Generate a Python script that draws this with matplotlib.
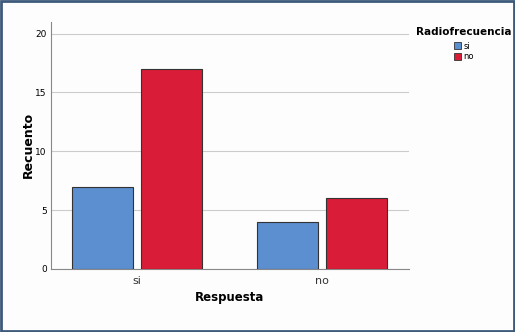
import matplotlib.pyplot as plt
import numpy as np
from matplotlib.patches import Rectangle, Patch

# Recuento por respuesta y radiofrecuencia
respuestas = ['si', 'no']
radiofrecuencia = ['si', 'no']
recuento_si = [7, 4]
recuento_no = [17, 6]
colores = ['#5b8fcf', '#d91c37']

fig = plt.figure(figsize=(5.15, 3.32), dpi=100)
fig.patch.set_facecolor('#fdfdfd')
ax = fig.add_axes([0.099, 0.190, 0.695, 0.744])
ax.set_facecolor('#fdfdfd')

x = np.arange(len(respuestas))
w = 0.33
off = 0.185
ax.bar(x - off, recuento_si, w, color=colores[0], edgecolor='#333333', linewidth=0.8, zorder=3)
ax.bar(x + off, recuento_no, w, color=colores[1], edgecolor='#333333', linewidth=0.8, zorder=3)

ax.set_xlim(-0.465, 1.47)
ax.set_ylim(0, 21)
ax.set_yticks([0, 5, 10, 15, 20])
ax.set_xticks(x)
ax.set_xticklabels(respuestas, fontsize=8, color='#333333')
ax.tick_params(axis='y', labelsize=6.5, length=0, pad=3)
ax.tick_params(axis='x', length=0, pad=5)
ax.grid(axis='y', color='#cccccc', linewidth=0.8, zorder=0)

for s in ['top', 'right']:
    ax.spines[s].set_visible(False)
for s in ['left', 'bottom']:
    ax.spines[s].set_color('#888888')
    ax.spines[s].set_linewidth(0.8)

ax.set_ylabel('Recuento', fontsize=9, fontweight='bold', labelpad=0)
ax.set_xlabel('Respuesta', fontsize=8.5, fontweight='bold', labelpad=4)

handles = [Patch(facecolor=colores[i], edgecolor='#333333', linewidth=0.6, label=radiofrecuencia[i])
           for i in range(2)]
leg = fig.legend(handles=handles, title='Radiofrecuencia', loc='upper left',
                 bbox_to_anchor=(0.797, 0.935), frameon=False, fontsize=6,
                 title_fontsize=7.5, handlelength=0.8, handleheight=0.8,
                 handletextpad=0.3, labelspacing=0.2, borderpad=0.2)
leg.get_title().set_fontweight('bold')
leg._legend_box.align = 'center'
leg._legend_box.sep = 3

fig.patches.append(Rectangle((0.002, 0.003), 0.996, 0.994, transform=fig.transFigure,
                             fill=False, edgecolor='#3d5a7a', linewidth=2))

plt.savefig('out.png', dpi=100, facecolor=fig.get_facecolor())
